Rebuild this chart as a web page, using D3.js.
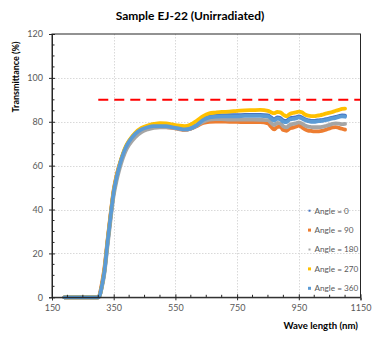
<!DOCTYPE html>
<html><head><meta charset="utf-8">
<script src="https://cdn.jsdelivr.net/npm/d3@7"></script>
<style>body{margin:0;background:#fff}svg{display:block}text{font-family:Lato,"Liberation Sans",sans-serif}</style>
</head><body><svg id="c" width="381" height="342"></svg>
<script>
const title = "Sample EJ-22 (Unirradiated)";
const xTitle = "Wave length (nm)";
const yTitle = "Transmittance (%)";
const xTicks = [150, 350, 550, 750, 950, 1150];
const yTicks = [0, 20, 40, 60, 80, 100, 120];
const thresholdValue = 90;
const thresholdRange = [300, 1150];
const seriesNames = ["Angle = 0", "Angle = 90", "Angle = 180", "Angle = 270", "Angle = 360"];
const seriesColors = ["#4472C4", "#ED7D31", "#A5A5A5", "#FFC000", "#5B9BD5"];
const wavelengths = [190,200,250,300,305,310,320,330,340,350,360,370,380,390,400,420,440,460,480,500,520,540,560,580,600,620,640,660,680,700,725,750,775,800,825,850,860,870,880,890,900,910,920,930,940,950,960,970,980,990,1000,1010,1020,1030,1040,1050,1060,1070,1080,1090,1100];
const angle0   = [0,0,0,0,1,4,12,25,37,48,55,60.5,65,68.5,71,74.5,76.5,77.5,78,78,78,77.5,77,76.5,77,78.6,81,82.3,82.7,82.9,83,83,83.1,83.1,83.1,82.9,82,81,82,81.7,80.5,80.3,81.5,81.8,82,82.4,82,81.2,80.7,80.4,80.4,80.6,80.7,80.9,81.2,81.6,81.9,82.2,82.6,82.9,82.8];
const angle90  = [0,0,0,0,1.5,5,13.5,26,38,49,56,61,65,68.5,71,74.5,76.3,77.3,77.6,77.6,77.6,77.2,76.7,76.3,76.8,78,79.5,80,80.1,80.1,80,80,79.8,79.8,79.8,79.3,77.8,76.5,77.6,77.8,76.2,75.9,76.9,77.3,77.7,78.2,77.5,76.5,76,75.8,75.6,75.6,75.7,76,76.5,77,77.4,77.6,77.2,76.8,76.4];
const angle180 = [0,0,0,0,0.8,3.5,11,23.5,35.5,46.5,53.5,59,63.5,67,69.5,73,75.3,76.5,77.2,77.5,77.5,77.3,76.8,76.5,77,78.3,80,81,81.2,81.2,81,81,81,81,80.9,80.7,79.5,78.5,79.5,79.3,77.9,77.4,78.5,79,79.3,79.7,79.2,78.3,77.8,77.6,77.5,77.5,77.6,77.8,78.2,78.6,79.1,79.3,79.1,78.9,79];
const angle270 = [0,0,0,0,1,4,12.5,25.5,37.5,48.5,55.5,61,65.5,69,71.5,75,77.2,78.3,79,79.4,79.3,78.8,78.3,78,78.8,80.6,82.6,83.8,84.2,84.5,84.6,85,85.2,85.3,85.4,85,84.3,83.9,84.5,84.3,83.2,82.5,83.5,84,84.3,84.6,84.3,83.3,82.8,82.6,82.6,82.8,83,83.4,83.8,84.2,84.5,85,85.4,85.9,86];
const angle360 = [0,0,0,0,1,4,12,25,37,48,55,60.5,65,68.5,71,74.5,76.5,77.5,78,78,78,77.5,77,76.5,77,78.5,80.8,82,82.3,82.5,82.5,82.5,82.7,82.7,82.7,82.5,81.5,80.5,81.5,81.2,80,79.8,81,81.3,81.5,82,81.5,80.8,80.3,80,80,80.2,80.3,80.5,80.8,81.2,81.5,81.8,82.2,82.5,82.3];
const seriesValues = [angle0, angle90, angle180, angle270, angle360];

const svg = d3.select("#c");
const x = d3.scaleLinear().domain([150, 1150]).range([52, 360.5]);
const y = d3.scaleLinear().domain([0, 120]).range([297.3, 34]);
const tickCol = "#595959";

// gridlines
const g = svg.append("g");
g.selectAll("line.vg").data(xTicks.slice(1, -1)).join("line")
  .attr("x1", d => Math.round(x(d)) + 0.5).attr("x2", d => Math.round(x(d)) + 0.5)
  .attr("y1", y(120)).attr("y2", y(0))
  .attr("stroke", "#D9D9D9").attr("stroke-width", 1).attr("stroke-dasharray", "1.5,1.5");
g.selectAll("line.hg").data(yTicks.slice(1, -1)).join("line")
  .attr("y1", d => Math.round(y(d)) + 0.5).attr("y2", d => Math.round(y(d)) + 0.5)
  .attr("x1", x(150)).attr("x2", x(1150))
  .attr("stroke", "#D9D9D9").attr("stroke-width", 1).attr("stroke-dasharray", "1.5,1.5");

// threshold line
svg.append("line")
  .attr("x1", x(thresholdRange[0])).attr("x2", x(thresholdRange[1]))
  .attr("y1", y(thresholdValue)).attr("y2", y(thresholdValue))
  .attr("stroke", "#FF0000").attr("stroke-width", 2).attr("stroke-dasharray", "10,6");

// series
const line = d3.line().x((d, i) => x(wavelengths[i])).y(d => y(d)).curve(d3.curveMonotoneX);
seriesValues.forEach((vals, k) => {
  svg.append("path").datum(vals).attr("d", line)
    .attr("fill", "none").attr("stroke", seriesColors[k])
    .attr("stroke-width", 3.8).attr("stroke-linejoin", "round").attr("stroke-linecap", "round");
});

// box / axes
const axCol = "#262626";
svg.append("rect").attr("x", x(150)).attr("y", y(120)).attr("width", x(1150) - x(150)).attr("height", y(0) - y(120))
  .attr("fill", "none").attr("stroke", axCol).attr("stroke-width", 1);

const xAxis = d3.axisBottom(x).tickValues(xTicks).tickSize(3).tickFormat(d3.format("d"));
const xa = svg.append("g").attr("transform", `translate(0,${y(0)})`).call(xAxis);
xa.select(".domain").attr("stroke", axCol);
xa.selectAll(".tick line").attr("stroke", axCol).attr("y1", -3).attr("y2", 3);
xa.selectAll(".tick text").attr("fill", tickCol).attr("font-size", 9).attr("dy", "0.85em").attr("font-family", "Lato");
const xMinor = d3.range(150, 1151, 50).filter(v => !xTicks.includes(v));
svg.append("g").selectAll("line").data(xMinor).join("line")
  .attr("x1", d => x(d)).attr("x2", d => x(d)).attr("y1", y(0)).attr("y2", y(0) - 2.5)
  .attr("stroke", axCol);

const yAxis = d3.axisLeft(y).tickValues(yTicks).tickSize(3);
const ya = svg.append("g").attr("transform", `translate(${x(150)},0)`).call(yAxis);
ya.select(".domain").attr("stroke", axCol);
ya.selectAll(".tick line").attr("stroke", axCol).attr("x1", -3).attr("x2", 3);
ya.selectAll(".tick text").attr("fill", tickCol).attr("font-size", 9).attr("x", -9).attr("font-family", "Lato");
const yMinor = d3.range(0, 121, 5).filter(v => !yTicks.includes(v));
svg.append("g").selectAll("line").data(yMinor).join("line")
  .attr("x1", x(150)).attr("x2", x(150) + 2.5).attr("y1", d => y(d)).attr("y2", d => y(d))
  .attr("stroke", axCol);

// titles
svg.append("text").attr("x", 190).attr("y", 20).attr("text-anchor", "middle")
  .attr("font-size", 12).attr("font-weight", "bold").attr("fill", "#000").text(title);
svg.append("text").attr("x", 358).attr("y", 328.5).attr("text-anchor", "end")
  .attr("font-size", 9.6).attr("font-weight", "bold").attr("fill", "#000").text(xTitle);
svg.append("text").attr("transform", "translate(19,77) rotate(-90)").attr("text-anchor", "middle")
  .attr("font-size", 9).attr("font-weight", "bold").attr("fill", "#000").text(yTitle);

// legend
const leg = svg.append("g");
seriesNames.forEach((n, k) => {
  const ly = 210.7 + k * 19.4;
  const s = (k === 0 || k === 2) ? 2 : 3;
  leg.append("rect").attr("x", 308.5 - s / 2 + 1).attr("y", ly - s / 2).attr("width", s).attr("height", s)
    .attr("fill", seriesColors[k]);
  leg.append("text").attr("x", 314.5).attr("y", ly).attr("dy", "0.35em")
    .attr("font-size", 8.2).attr("fill", tickCol).text(n);
});
</script></body></html>
